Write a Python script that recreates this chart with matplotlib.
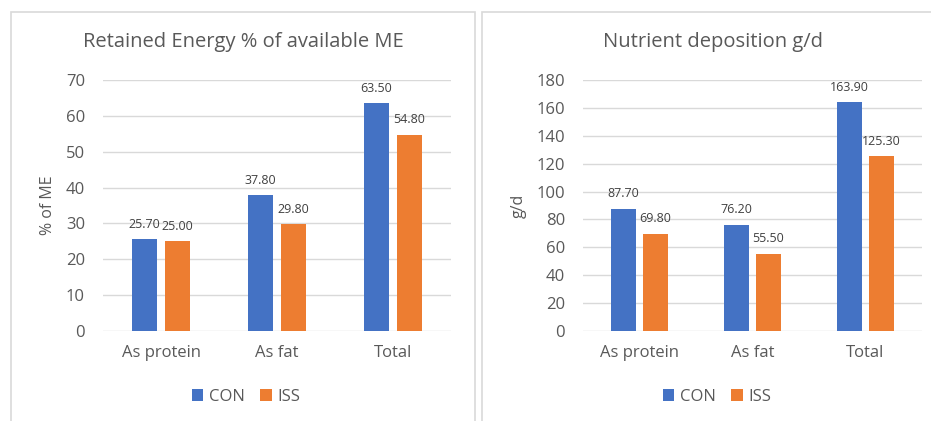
import matplotlib
matplotlib.use('Agg')
import matplotlib.pyplot as plt
from matplotlib.patches import Rectangle
import numpy as np

plt.rcParams['font.family'] = ['Open Sans', 'DejaVu Sans']

categories = ['As protein', 'As fat', 'Total']
series_names = ['CON', 'ISS']
energy_con = [25.70, 37.80, 63.50]
energy_iss = [25.00, 29.80, 54.80]
depo_con = [87.70, 76.20, 163.90]
depo_iss = [69.80, 55.50, 125.30]

BLUE = '#4472C4'
ORANGE = '#ED7D31'
GRID = '#D9D9D9'
TXT = '#595959'

W, H = 931, 421
fig = plt.figure(figsize=(W / 100, H / 100), dpi=100)
fig.patch.set_facecolor('white')

# panel frames (pixels -> figure fraction)
def frame(x0, y0, x1, y1):
    r = Rectangle((x0 / W, 1 - y1 / H), (x1 - x0) / W, (y1 - y0) / H,
                  transform=fig.transFigure, fill=False, edgecolor=GRID, lw=1.2)
    fig.patches.append(r)

frame(11, 12, 475, 440)
frame(482, 12, 960, 440)


def draw_panel(left_px, right_px, con, iss, ymax, ystep, ylabel, title, title_x, leg_x):
    ax = fig.add_axes([left_px / W, 1 - 331 / H, (right_px - left_px) / W, 251 / H])
    x = np.arange(len(categories))
    w = 0.216
    off = 0.142
    b1 = ax.bar(x - off, con, w, color=BLUE, label=series_names[0], zorder=3)
    b2 = ax.bar(x + off, iss, w, color=ORANGE, label=series_names[1], zorder=3)
    for bars in (b1, b2):
        for rect in bars:
            h = rect.get_height()
            ax.annotate('%.2f' % h, (rect.get_x() + rect.get_width() / 2, h),
                        xytext=(0, 6), textcoords='offset points',
                        ha='center', va='bottom', fontsize=9, color='#404040')
    ax.set_xlim(-0.5, len(categories) - 0.5)
    ax.set_ylim(0, ymax)
    ax.set_yticks(np.arange(0, ymax + 1, ystep))
    ax.set_xticks(x)
    ax.set_xticklabels(categories)
    ax.grid(axis='y', color=GRID, lw=1, zorder=0)
    for s in ax.spines.values():
        s.set_visible(False)
    ax.tick_params(axis='y', length=0, pad=13, labelsize=12, labelcolor=TXT)
    ax.tick_params(axis='x', length=0, pad=10, labelsize=12, labelcolor=TXT)
    ax.set_ylabel(ylabel, fontsize=11.5, color=TXT, labelpad=7)
    fig.text(title_x / W, 1 - 42 / H, title, ha='center', va='center',
             fontsize=14.5, color=TXT)
    fig.legend(handles=[b1, b2], loc='center', bbox_to_anchor=(leg_x / W, 1 - 397 / H),
               ncol=2, frameon=False, fontsize=12, labelcolor=TXT,
               handlelength=0.7, handleheight=0.7, handletextpad=0.35, columnspacing=0.9)
    return ax


draw_panel(103, 451, energy_con, energy_iss, 70, 10, '% of ME',
           'Retained Energy % of available ME', 243, 246)
draw_panel(583, 922, depo_con, depo_iss, 180, 20, 'g/d',
           'Nutrient deposition g/d', 713, 717)

plt.savefig('out.png', dpi=100)
